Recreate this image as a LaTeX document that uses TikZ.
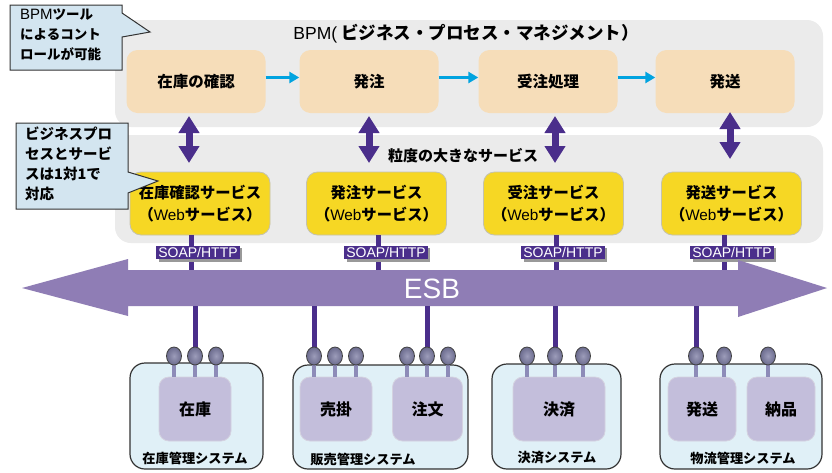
\documentclass[tikz,border=0pt]{standalone}
\usepackage{fontspec}
\setmainfont{Noto Sans CJK JP}
\newfontfamily\lat{Liberation Sans}
\usetikzlibrary{shapes.geometric,arrows.meta,shadows}
\definecolor{panelgray}{HTML}{EBEBEB}
\definecolor{proccol}{HTML}{F6DDB9}
\definecolor{svccol}{HTML}{F6D724}
\definecolor{svcborder}{HTML}{C4C2B0}
\definecolor{dpurple}{HTML}{4A2E8B}
\definecolor{esbcol}{HTML}{8F7DB5}
\definecolor{syscol}{HTML}{E0F0F7}
\definecolor{innercol}{HTML}{C3BEDB}
\definecolor{innerborder}{HTML}{D4D2E0}
\definecolor{ballin}{HTML}{9C9CBA}
\definecolor{ballout}{HTML}{6C6C8E}
\definecolor{stickcol}{HTML}{8D8BB8}
\definecolor{callcol}{HTML}{D3E5F0}
\definecolor{flowcol}{HTML}{00A3E0}
\begin{document}
\begin{tikzpicture}[x=1pt,y=-1pt,
  panel/.style={fill=panelgray,rounded corners=16pt},
  proc/.style={fill=proccol,rounded corners=11pt,minimum width=139pt,minimum height=63pt,inner sep=0pt,font=\fontsize{15.5}{18}\selectfont\bfseries},
  svc/.style={fill=svccol,draw=svcborder,line width=0.8pt,rounded corners=11pt,minimum width=140pt,minimum height=63pt,inner sep=0pt,align=center,font=\fontsize{15.3}{22}\selectfont\bfseries},
  flow/.style={draw=flowcol,line width=2.5pt,-{Triangle[width=11pt,length=10pt]}},
  dbl/.style={draw=dpurple,line width=7pt,{Triangle[width=20pt,length=17pt]}-{Triangle[width=20pt,length=17pt]}},
  soap/.style={fill=dpurple,text=white,inner xsep=2pt,inner ysep=1.5pt,font=\lat\fontsize{14}{14}\selectfont,
    drop shadow={shadow xshift=2.5pt,shadow yshift=-2.5pt,fill=black!40,opacity=1}},
  pline/.style={draw=dpurple,line width=5pt},
  sys/.style={fill=syscol,draw=black!80,line width=1.2pt,rounded corners=15pt,inner sep=0pt},
  inner/.style={fill=innercol,draw=innerborder,line width=0.8pt,rounded corners=10pt,inner sep=0pt,font=\fontsize{16}{18}\selectfont\bfseries},
  syslabel/.style={font=\fontsize{13.2}{15}\selectfont\bfseries,inner sep=0pt},
  ball/.style={ellipse,inner color=ballin,outer color=ballout,draw=black!75,line width=0.8pt,minimum width=15pt,minimum height=18pt,inner sep=0pt},
  stick/.style={draw=stickcol,line width=4.5pt},
  callout/.style={fill=callcol,draw=black!80,line width=1pt},
  calltext/.style={align=left,inner sep=0pt,anchor=north west,font=\bfseries}
]
\useasboundingbox (0,0) rectangle (832,472);
\fill[white] (0,0) rectangle (832,472);

% panels
\path[panel] (115,20) rectangle (823,127);
\path[panel] (115,135) rectangle (823,243);

\node[inner sep=0pt] (title) at (466,34) {\fontsize{17.5}{20}\selectfont{\lat BPM(} {\bfseries ビジネス・プロセス・マネジメント）}};

% process boxes
\node[proc] (p1) at (196,81.5) {在庫の確認};
\node[proc] (p2) at (369,81.5) {発注};
\node[proc] (p3) at (548,81.5) {受注処理};
\node[proc] (p4) at (725,81.5) {発送};
\draw[flow] ([yshift=4pt]p1.east) -- ([yshift=4pt]p2.west);
\draw[flow] ([yshift=4pt]p2.east) -- ([yshift=4pt]p3.west);
\draw[flow] ([yshift=4pt]p3.east) -- ([yshift=4pt]p4.west);

\node[inner sep=0pt,font=\fontsize{15}{18}\selectfont\bfseries] (grain) at (463,156) {粒度の大きなサービス};

% service boxes
\node[svc] (s1) at (200,203.5) {在庫確認サービス\\（{\lat\mdseries Web}サービス）};
\node[svc] (s2) at (376.5,203.5) {発注サービス\\（{\lat\mdseries Web}サービス）};
\node[svc] (s3) at (553.5,203.5) {受注サービス\\（{\lat\mdseries Web}サービス）};
\node[svc] (s4) at (731.5,203.5) {発送サービス\\（{\lat\mdseries Web}サービス）};

% double arrows between layers
\coordinate (d1t) at (189,116); \coordinate (d1b) at (189,163);
\coordinate (d2t) at (369,116); \coordinate (d2b) at (369,163);
\coordinate (d3t) at (555,116); \coordinate (d3b) at (555,163);
\coordinate (d4t) at (730,112); \coordinate (d4b) at (730,159);
\draw[dbl] (d1t) -- (d1b);
\draw[dbl] (d2t) -- (d2b);
\draw[dbl] (d3t) -- (d3b);
\draw[dbl] (d4t) -- (d4b);

% lines from services to ESB
\coordinate (e1) at (191,271);
\coordinate (e2) at (378,271);
\coordinate (e3) at (556,271);
\coordinate (e4) at (724,271);
\draw[pline] (s1.south -| e1) -- (e1);
\draw[pline] (s2.south -| e2) -- (e2);
\draw[pline] (s3.south -| e3) -- (e3);
\draw[pline] (s4.south -| e4) -- (e4);
\node[soap] (h1) at (198,252.5) {SOAP/HTTP};
\node[soap] (h2) at (386,252.5) {SOAP/HTTP};
\node[soap] (h3) at (563,252.5) {SOAP/HTTP};
\node[soap] (h4) at (732,252.5) {SOAP/HTTP};

% ESB arrow
\fill[esbcol] (22,288) -- (128,259) -- (128,270) -- (738,270) -- (738,260) -- (827,288)
  -- (738,317) -- (738,306) -- (128,306) -- (128,316) -- cycle;
\node[text=white,inner sep=0pt,font=\lat\fontsize{28}{30}\selectfont] (esb) at (432,289) {ESB};

% systems
\node[sys,minimum width=133pt,minimum height=106pt] (sys1) at (196.5,416) {};
\node[sys,minimum width=175pt,minimum height=104pt] (sys2) at (380.5,417) {};
\node[sys,minimum width=129pt,minimum height=105pt] (sys3) at (556.5,416.5) {};
\node[sys,minimum width=162pt,minimum height=105pt] (sys4) at (741,416.5) {};

\node[inner,minimum width=72pt,minimum height=64pt] (i1) at (195,409) {在庫};
\node[inner,minimum width=72pt,minimum height=64pt] (i2) at (336,409) {売掛};
\node[inner,minimum width=70pt,minimum height=64pt] (i3) at (427.5,409) {注文};
\node[inner,minimum width=92pt,minimum height=64pt] (i4) at (559,409) {決済};
\node[inner,minimum width=68pt,minimum height=64pt] (i5) at (702,409) {発送};
\node[inner,minimum width=68pt,minimum height=64pt] (i6) at (781,409) {納品};

\node[syslabel] (l1) at (195,458) {在庫管理システム};
\node[syslabel] (l2) at (363,459) {販売管理システム};
\node[syslabel] (l3) at (557,458) {決済システム};
\node[syslabel] (l4) at (743,458) {物流管理システム};

% lollipop positions
\foreach \n/\x in {a1/174,a2/195,a3/216,b1/314,b2/335,b3/356,b4/407,b5/427,b6/448,
                   c1/527,c2/555,c3/583,d1/696,d2/724,d3/768}{
  \coordinate (\n) at (\x,356);
}
\foreach \n/\b in {a1/i1,a2/i1,a3/i1,b1/i2,b2/i2,b3/i2,b4/i3,b5/i3,b6/i3,c1/i4,c2/i4,c3/i4,d1/i5,d2/i5,d3/i6}{
  \draw[stick] (\n) -- (\n |- \b.north);
}

% lines from ESB to systems
\coordinate (f1) at (195,306);
\coordinate (f2) at (314,306);
\coordinate (f3) at (427,306);
\coordinate (f4) at (555,306);
\coordinate (f5) at (696,306);
\draw[pline] (f1) -- (a2);
\draw[pline] (f2) -- (b1);
\draw[pline] (f3) -- (b5);
\draw[pline] (f4) -- (c2);
\draw[pline] (f5) -- (d1);
\foreach \n in {a1,a2,a3,b1,b2,b3,b4,b5,b6,c1,c2,c3,d1,d2,d3}{
  \node[ball] (ball\n) at (\n) {};
}

% callouts
\draw[callout] (10,5) -- (122,5) -- (122,13) -- (150,32) -- (122,37) -- (122,70) -- (10,70) -- cycle;
\node[calltext,font=\fontsize{13.5}{20}\selectfont\bfseries] (k1) at (20,9) {{\lat\mdseries\fontsize{15}{20}\selectfont BPM}ツール\\によるコント\\ロールが可能};
\draw[callout] (16,123) -- (128,123) -- (128,172) -- (158,181) -- (128,193) -- (128,209) -- (16,209) -- cycle;
\node[calltext,font=\fontsize{14.5}{20}\selectfont\bfseries] (k2) at (25,127) {ビジネスプロ\\セスとサービ\\スは1対1で\\対応};
\end{tikzpicture}
\end{document}
